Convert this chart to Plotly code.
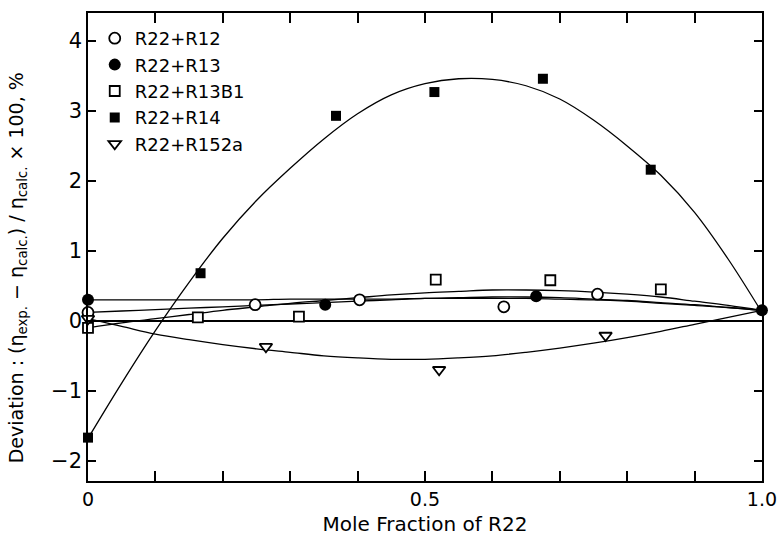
import plotly.graph_objects as go

# ---- measured points ----
r12_x = [0.0, 0.248, 0.403, 0.617, 0.756]
r12_y = [0.12, 0.23, 0.30, 0.20, 0.38]

r13_x = [0.0, 0.352, 0.665, 1.0]
r13_y = [0.30, 0.23, 0.35, 0.15]

r13b1_x = [0.0, 0.163, 0.313, 0.516, 0.686, 0.850]
r13b1_y = [-0.10, 0.05, 0.06, 0.59, 0.58, 0.45]

r14_x = [0.0, 0.167, 0.368, 0.514, 0.675, 0.835]
r14_y = [-1.67, 0.68, 2.93, 3.27, 3.46, 2.16]

r152a_x = [0.0, 0.264, 0.521, 0.768]
r152a_y = [0.03, -0.37, -0.70, -0.21]

# ---- fitted curves ----
curve_x = [0.0, 0.05, 0.10, 0.15, 0.20, 0.25, 0.30, 0.35, 0.40, 0.45, 0.50,
           0.55, 0.60, 0.65, 0.70, 0.75, 0.80, 0.85, 0.90, 0.95, 1.0]
fit_r12 = [0.12, 0.14, 0.16, 0.18, 0.20, 0.22, 0.24, 0.26, 0.28, 0.30, 0.32,
           0.33, 0.34, 0.34, 0.33, 0.31, 0.29, 0.26, 0.23, 0.19, 0.15]
fit_r13 = [0.30, 0.30, 0.30, 0.30, 0.30, 0.30, 0.31, 0.31, 0.31, 0.31, 0.32,
           0.32, 0.32, 0.32, 0.31, 0.30, 0.28, 0.25, 0.22, 0.19, 0.15]
fit_r13b1 = [-0.10, -0.03, 0.03, 0.09, 0.15, 0.20, 0.25, 0.29, 0.33, 0.37, 0.40,
             0.42, 0.44, 0.44, 0.43, 0.41, 0.38, 0.34, 0.28, 0.22, 0.15]
fit_r14 = [-1.68, -0.89, -0.14, 0.55, 1.18, 1.72, 2.18, 2.60, 2.96, 3.23, 3.39,
           3.46, 3.45, 3.36, 3.17, 2.87, 2.50, 2.08, 1.55, 0.88, 0.12]
fit_r152a = [0.03, -0.08, -0.19, -0.27, -0.34, -0.40, -0.45, -0.50, -0.53, -0.55, -0.55,
             -0.53, -0.50, -0.45, -0.39, -0.32, -0.24, -0.15, -0.05, 0.05, 0.15]

x_tickvals = [0.0, 0.1, 0.2, 0.3, 0.4, 0.5, 0.6, 0.7, 0.8, 0.9, 1.0]
x_ticktext = ["0", "", "", "", "", "0.5", "", "", "", "", "1.0"]
y_tickvals = [-2, -1, 0, 1, 2, 3, 4]

FONT = "DejaVu Sans"
fig = go.Figure()

for fy in [fit_r14, fit_r152a, fit_r12, fit_r13, fit_r13b1]:
    fig.add_trace(go.Scatter(x=curve_x, y=fy, mode="lines",
                             line=dict(color="black", width=1.3, shape="spline"),
                             showlegend=False, hoverinfo="skip"))

series = [
    ("R22+R12", r12_x, r12_y, dict(symbol="circle", size=11, color="white", line=dict(width=1.8, color="black"))),
    ("R22+R13", r13_x, r13_y, dict(symbol="circle", size=12, color="black")),
    ("R22+R13B1", r13b1_x, r13b1_y, dict(symbol="square", size=10, color="white", line=dict(width=1.8, color="black"))),
    ("R22+R14", r14_x, r14_y, dict(symbol="square", size=10, color="black")),
    ("R22+R152a", r152a_x, r152a_y, dict(symbol="triangle-down", size=11, color="white", line=dict(width=1.8, color="black"))),
]
for name, xs, ys, mk in series:
    fig.add_trace(go.Scatter(x=xs, y=ys, mode="markers", name=name, marker=mk, cliponaxis=False))

fig.update_layout(
    width=777, height=539,
    margin=dict(l=88, r=15, t=13, b=58, autoexpand=False),
    paper_bgcolor="white", plot_bgcolor="white",
    font=dict(family=FONT, size=20, color="black"),
    legend=dict(x=0.01, y=0.985, xanchor="left", yanchor="top", bgcolor="rgba(0,0,0,0)",
                font=dict(family=FONT, size=18), tracegroupgap=0),
    showlegend=True,
    annotations=[dict(
        text="Deviation : (η<sub>exp.</sub> − η<sub>calc.</sub>) / η<sub>calc.</sub> × 100, %",
        xref="paper", yref="paper", x=-0.105, y=0.455, xanchor="center", yanchor="middle",
        textangle=-90, showarrow=False, font=dict(family=FONT, size=19, color="black"))],
)
fig.update_xaxes(
    range=[0, 1.0001], tickvals=x_tickvals, ticktext=x_ticktext,
    ticks="inside", ticklen=10, tickwidth=1.5, tickcolor="black",
    showline=True, linecolor="black", linewidth=1.5, mirror="ticks",
    showgrid=False, zeroline=False, ticklabeloverflow="allow", automargin=False,
    tickfont=dict(size=19),
    title=dict(text="Mole Fraction of R22", font=dict(size=20), standoff=8),
)
fig.update_yaxes(
    range=[-2.29, 4.4], tickvals=y_tickvals, automargin=False,
    ticks="inside", ticklen=8, tickwidth=1.5, tickcolor="black",
    showline=True, linecolor="black", linewidth=1.5, mirror="ticks",
    showgrid=False, zeroline=True, zerolinecolor="black", zerolinewidth=1.5,
    tickfont=dict(size=21),
)

fig.write_html("out.html")
